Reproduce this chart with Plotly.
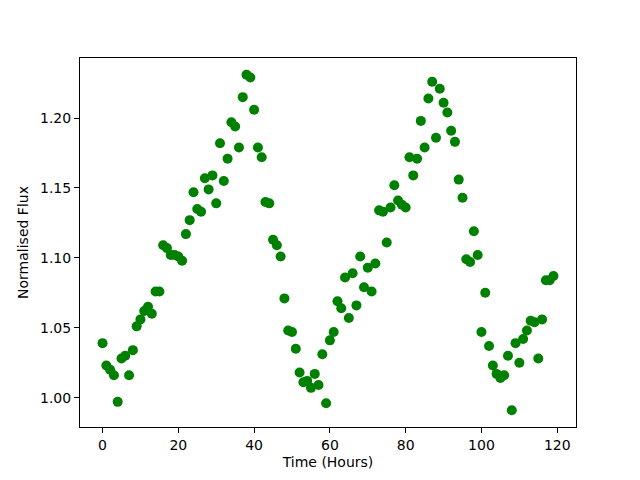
import plotly.graph_objects as go

hours = list(range(120))
flux = [
    1.039, 1.023, 1.020, 1.016, 0.997, 1.028, 1.030, 1.016, 1.034, 1.051,
    1.056, 1.062, 1.065, 1.060, 1.076, 1.076, 1.109, 1.107, 1.102, 1.102,
    1.101, 1.098, 1.117, 1.127, 1.147, 1.135, 1.133, 1.157, 1.149, 1.159,
    1.139, 1.182, 1.155, 1.171, 1.197, 1.194, 1.179, 1.215, 1.231, 1.229,
    1.206, 1.179, 1.172, 1.140, 1.139, 1.113, 1.109, 1.101, 1.071, 1.048,
    1.047, 1.035, 1.018, 1.011, 1.012, 1.007, 1.017, 1.009, 1.031, 0.996,
    1.041, 1.047, 1.069, 1.064, 1.086, 1.057, 1.089, 1.066, 1.101, 1.079,
    1.093, 1.076, 1.096, 1.134, 1.133, 1.111, 1.136, 1.152, 1.141, 1.138,
    1.136, 1.172, 1.159, 1.171, 1.198, 1.179, 1.214, 1.226, 1.186, 1.221,
    1.211, 1.204, 1.191, 1.183, 1.156, 1.143, 1.099, 1.097, 1.119, 1.102,
    1.047, 1.075, 1.037, 1.023, 1.017, 1.014, 1.016, 1.030, 0.991, 1.039,
    1.025, 1.042, 1.048, 1.055, 1.054, 1.028, 1.056, 1.084, 1.084, 1.087,
]
x_ticks = [0, 20, 40, 60, 80, 100, 120]
y_ticks = [1.00, 1.05, 1.10, 1.15, 1.20]

fig = go.Figure(go.Scatter(
    x=hours, y=flux, mode="markers",
    marker=dict(color="#008000", size=10, line=dict(width=0)),
))

axis_common = dict(
    showgrid=False, zeroline=False, showline=True, linecolor="black",
    linewidth=1, mirror=True, ticks="outside", ticklen=5, tickwidth=1,
    tickcolor="black", automargin=False,
    tickfont=dict(family="DejaVu Sans", size=14, color="black"),
)
fig.update_xaxes(range=[-5.95, 124.95], tickvals=x_ticks,
                 ticktext=[str(v) for v in x_ticks],
                 title=dict(text="Time (Hours)", font=dict(family="DejaVu Sans", size=14, color="black"), standoff=5),
                 **axis_common)
fig.update_yaxes(range=[0.979, 1.243], tickvals=y_ticks,
                 ticktext=[f"{v:.2f}" for v in y_ticks],
                 title=dict(text="Normalised Flux", font=dict(family="DejaVu Sans", size=14, color="black"), standoff=8),
                 **axis_common)
fig.update_layout(
    width=632, height=472,
    margin=dict(l=72, r=64, t=50, b=53),
    plot_bgcolor="white", paper_bgcolor="white",
    showlegend=False,
)
fig.write_html("out.html")
